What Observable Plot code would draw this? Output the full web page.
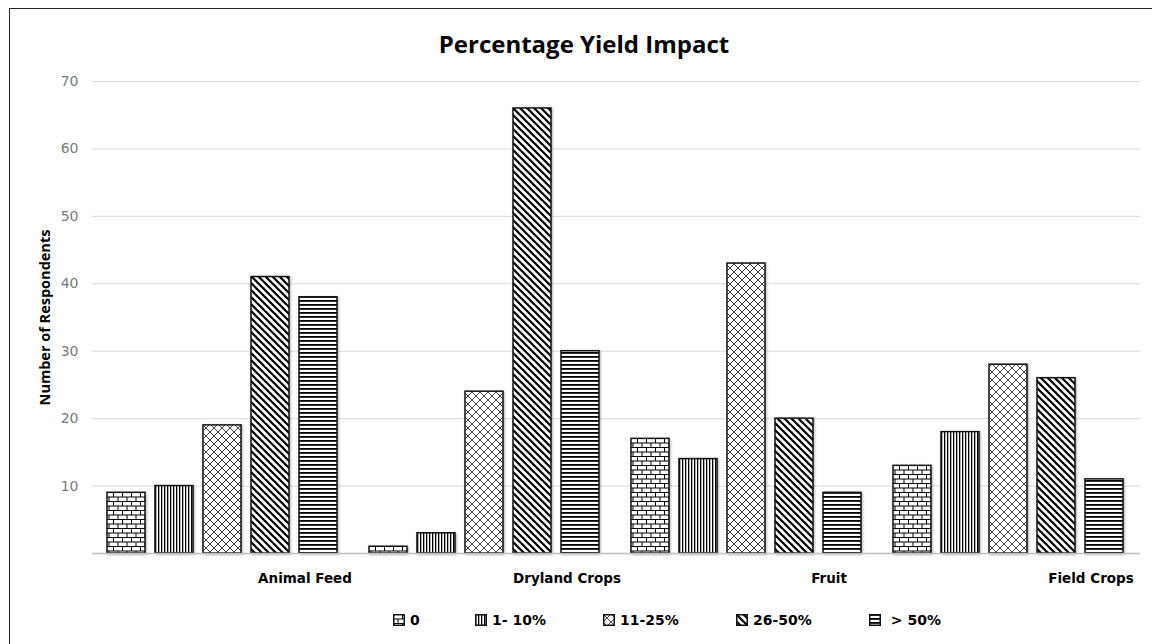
<!DOCTYPE html>
<html>
<head>
<meta charset="utf-8">
<script src="https://cdn.jsdelivr.net/npm/d3@7"></script>
<script src="https://cdn.jsdelivr.net/npm/@observablehq/plot@0.6"></script>
<style>
  html, body { margin: 0; padding: 0; background: #fff; }
  body { width: 1152px; height: 644px; position: relative; overflow: hidden; font-family: "Open Sans", "Noto Sans", sans-serif; }
  #frame { position: absolute; left: 9px; top: 8px; width: 1160px; height: 660px; border: 1.5px solid #222; box-sizing: border-box; }
  #title { position: absolute; left: 8px; top: 28px; width: 1152px; text-align: center; font-size: 24px; font-weight: 700; color: #000; line-height: 32px; }
  .layer { position: absolute; left: 0; top: 60px; }
  #legend { position: absolute; top: 610px; left: 0; width: 1152px; height: 20px; font-family: "DejaVu Sans", sans-serif; font-size: 14px; font-weight: 700; color: #000; }
  #legend .item { position: absolute; display: flex; align-items: center; gap: 5px; white-space: pre; line-height: 20px; }
  #legend svg { display: block; }
</style>
</head>
<body>
<svg width="0" height="0" style="position:absolute">
  <defs>
    <pattern id="p0" patternUnits="userSpaceOnUse" width="9" height="9">
      <rect width="9" height="9" fill="#fff"/>
      <path d="M0,0.5H9M0,5H9M0.5,0V5M5,5V9" stroke="#000" stroke-width="1" fill="none"/>
    </pattern>
    <pattern id="p1" patternUnits="userSpaceOnUse" width="3" height="4">
      <rect width="3" height="4" fill="#fff"/>
      <rect x="0" y="0" width="1.3" height="4" fill="#000"/>
    </pattern>
    <pattern id="p2" patternUnits="userSpaceOnUse" width="8" height="8">
      <rect width="8" height="8" fill="#fff"/>
      <path d="M0,0L8,8M8,0L0,8M-1,7L1,9M7,-1L9,1M-1,1L1,-1M7,9L9,7" stroke="#444" stroke-width="1" fill="none"/>
    </pattern>
    <pattern id="p3" patternUnits="userSpaceOnUse" width="7" height="7">
      <rect width="7" height="7" fill="#fff"/>
      <path d="M0,0L7,7M-3.5,3.5L3.5,10.5M3.5,-3.5L10.5,3.5" stroke="#000" stroke-width="2.2" fill="none"/>
    </pattern>
    <pattern id="p4" patternUnits="userSpaceOnUse" width="4" height="4">
      <rect width="4" height="4" fill="#fff"/>
      <rect x="0" y="0" width="4" height="1.8" fill="#000"/>
    </pattern>
  </defs>
</svg>
<div id="frame"></div>
<div id="title">Percentage Yield Impact</div>
<div id="back" class="layer"></div>
<div id="front" class="layer"></div>
<div id="legend"></div>
<script>
const categories = ["Animal Feed", "Dryland Crops", "Fruit", "Field Crops"];
const seriesNames = ["0", "1- 10%", "11-25%", "26-50%", "> 50%"];
const values0   = [9, 1, 17, 13];
const values1   = [10, 3, 14, 18];
const values11  = [19, 24, 43, 28];
const values26  = [41, 66, 20, 26];
const values50  = [38, 30, 9, 11];
const yTicks = [10, 20, 30, 40, 50, 60, 70];
const yLabel = "Number of Respondents";
const patternIds = ["p0", "p1", "p2", "p3", "p4"];

const seriesValues = [values0, values1, values11, values26, values50];
const data = [];
categories.forEach((c, ci) => {
  seriesNames.forEach((s, si) => {
    data.push({category: c, series: s, value: seriesValues[si][ci], pattern: `url(#${patternIds[si]})`});
  });
});

const common = {
  width: 1152,
  height: 540,
  marginLeft: 92,
  marginRight: 12,
  marginTop: 21,
  marginBottom: 47,
  style: {background: "transparent", overflow: "visible"}
};

// Background layer: gridlines, y axis (continuous across groups)
const back = Plot.plot({
  ...common,
  style: {...common.style, fontFamily: "DejaVu Sans, sans-serif", fontSize: "14px"},
  y: {domain: [0, 70], label: null, axis: null},
  marks: [
    Plot.gridY(yTicks, {stroke: "#d9d9d9", strokeOpacity: 1, strokeWidth: 1}),
    Plot.axisY(yTicks, {tickSize: 0, tickPadding: 14, fill: "#7a7a7a", fontSize: 14, label: null}),
    Plot.text([yLabel], {frameAnchor: "left", textAnchor: "middle", lineAnchor: "middle", rotate: -90, dx: -47,
      fontSize: 14.5, fontWeight: "bold", fill: "#000", fontFamily: "Open Sans, sans-serif"})
  ]
});
document.getElementById("back").appendChild(back);

// Front layer: grouped patterned bars
const front = Plot.plot({
  ...common,
  style: {...common.style, fontFamily: "DejaVu Sans, sans-serif", fontSize: "13.5px"},
  fx: {domain: categories, paddingInner: 0.11, paddingOuter: 0.055, label: null},
  x: {domain: seriesNames, paddingInner: 0.2, paddingOuter: 0, axis: null},
  y: {domain: [0, 70], label: null, axis: null},
  color: {type: "identity"},
  marks: [
    Plot.axisFx({anchor: "bottom", tickSize: 0, tickPadding: 20, dx: 82, fontSize: 13.5, fontWeight: "bold", fill: "#000", label: null}),
    Plot.barY(data, {
      fx: "category", x: "series", y: "value",
      fill: "pattern", stroke: "#111", strokeWidth: 1.5
    })
  ]
});
d3.select(front).selectAll("g[aria-label='bar'] rect").style("filter", "drop-shadow(1.5px 1.5px 1px rgba(0,0,0,0.3))");
document.getElementById("front").appendChild(front);

// baseline on top of bars
const base = Plot.plot({
  ...common,
  y: {domain: [0, 70], axis: null},
  marks: [Plot.ruleY([0], {stroke: "#bfbfbf", strokeWidth: 1.5})]
});
const baseDiv = document.createElement("div");
baseDiv.className = "layer";
baseDiv.appendChild(base);
document.body.appendChild(baseDiv);

// legend
const legendX = [393, 475, 603, 736, 869];
const legend = d3.select("#legend");
seriesNames.forEach((s, i) => {
  const item = legend.append("div").attr("class", "item").style("left", legendX[i] + "px");
  const sw = item.append("svg").attr("width", 12).attr("height", 12);
  sw.append("rect").attr("x", 0.75).attr("y", 0.75).attr("width", 10.5).attr("height", 10.5)
    .attr("fill", `url(#${patternIds[i]})`).attr("stroke", "#111").attr("stroke-width", 1.5);
  item.append("span").text(i === 4 ? " " + s : s);
});
</script>
</body>
</html>
